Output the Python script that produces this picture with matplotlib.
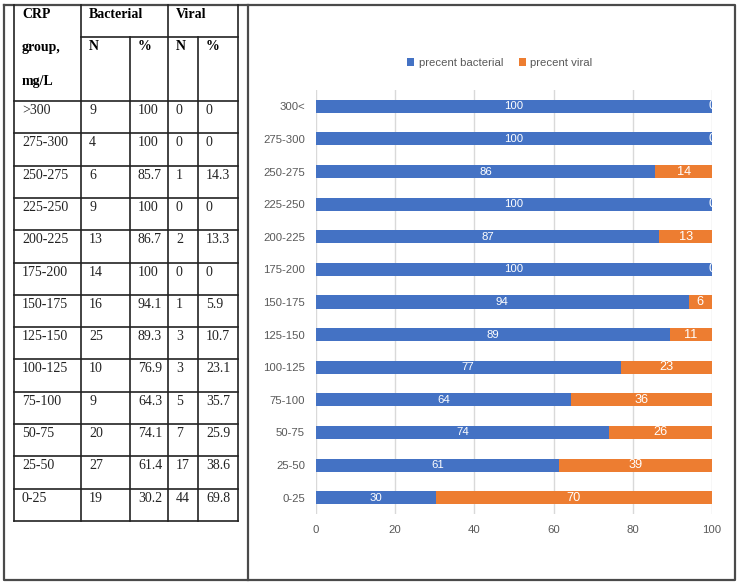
import matplotlib.pyplot as plt
import numpy as np

# table data (left panel)
table_groups = [">300", "275-300", "250-275", "225-250", "200-225", "175-200", "150-175",
                "125-150", "100-125", "75-100", "50-75", "25-50", "0-25"]
bact_n = [9, 4, 6, 9, 13, 14, 16, 25, 10, 9, 20, 27, 19]
bact_pct = [100, 100, 85.7, 100, 86.7, 100, 94.1, 89.3, 76.9, 64.3, 74.1, 61.4, 30.2]
viral_n = [0, 0, 1, 0, 2, 0, 1, 3, 3, 5, 7, 17, 44]
viral_pct = [0, 0, 14.3, 0, 13.3, 0, 5.9, 10.7, 23.1, 35.7, 25.9, 38.6, 69.8]

# chart labels (right panel)
chart_groups = ["300<", "275-300", "250-275", "225-250", "200-225", "175-200", "150-175",
                "125-150", "100-125", "75-100", "50-75", "25-50", "0-25"]
x_ticks = [0, 20, 40, 60, 80, 100]

blue = "#4472C4"
orange = "#ED7D31"
gray_txt = "#595959"

fig = plt.figure(figsize=(7.4, 5.85), dpi=100)

# overlay in pixel coords for the frames and the table
ov = fig.add_axes([0, 0, 1, 1], zorder=0)
ov.set_xlim(0, 740)
ov.set_ylim(585, 0)
ov.axis("off")

# outer frames
frame_c = "#4a4a4a"
ov.plot([4, 735, 735, 4, 4], [4.5, 4.5, 580, 580, 4.5], color=frame_c, lw=1.6)
ov.plot([248, 248], [4.5, 580], color=frame_c, lw=1.6)

# table grid
col_x = [14, 81, 130, 168, 198, 237.5]
top = 4.5
sub = 37
head_bottom = 101
row_h = (521 - head_bottom) / len(table_groups)
bottom = head_bottom + row_h * len(table_groups)
line_c = "#222222"
ov.plot([col_x[0], col_x[0]], [top, bottom], color=line_c, lw=1.2)
ov.plot([col_x[1], col_x[1]], [top, bottom], color=line_c, lw=1.2)
ov.plot([col_x[3], col_x[3]], [top, bottom], color=line_c, lw=1.2)
ov.plot([col_x[5], col_x[5]], [top, bottom], color=line_c, lw=1.2)
ov.plot([col_x[2], col_x[2]], [sub, bottom], color=line_c, lw=1.2)
ov.plot([col_x[4], col_x[4]], [sub, bottom], color=line_c, lw=1.2)
ov.plot([col_x[1], col_x[5]], [sub, sub], color=line_c, lw=1.2)
for i in range(len(table_groups) + 1):
    yy = head_bottom + i * row_h
    ov.plot([col_x[0], col_x[5]], [yy, yy], color=line_c, lw=1.2)

serif = "Liberation Serif"
fs = 10
pad = 8
ov.text(col_x[0] + pad, 15, "CRP", family=serif, fontsize=fs, weight="bold", va="center")
ov.text(col_x[0] + pad, 48, "group,", family=serif, fontsize=fs, weight="bold", va="center")
ov.text(col_x[0] + pad, 82, "mg/L", family=serif, fontsize=fs, weight="bold", va="center")
ov.text(col_x[1] + pad, 15, "Bacterial", family=serif, fontsize=fs, weight="bold", va="center")
ov.text(col_x[3] + pad, 15, "Viral", family=serif, fontsize=fs, weight="bold", va="center")
for cx, h in zip(col_x[1:5], ["N", "%", "N", "%"]):
    ov.text(cx + pad, 46, h, family=serif, fontsize=fs, weight="bold", va="center")

for i, g in enumerate(table_groups):
    yy = head_bottom + i * row_h + 9.5
    vals = [g, bact_n[i], bact_pct[i], viral_n[i], viral_pct[i]]
    for cx, v in zip(col_x[:5], vals):
        ov.text(cx + pad, yy, str(v), family=serif, fontsize=fs, va="center", color="#222222")

# stacked bar chart
ax = fig.add_axes([316 / 740, (585 - 514) / 585, 396 / 740, 424 / 585], zorder=1)
ax.set_facecolor("none")
y = np.arange(len(chart_groups))
ax.barh(y, bact_pct, height=0.4, color=blue, label="precent bacterial", zorder=2)
ax.barh(y, viral_pct, left=bact_pct, height=0.4, color=orange, label="precent viral", zorder=2)

sans = "Liberation Sans"
for i in range(len(chart_groups)):
    ax.text(bact_pct[i] / 2, y[i], str(round(bact_pct[i])), color="white", fontsize=8.2,
            family=sans, ha="center", va="center", zorder=3, clip_on=True)
    ax.text(bact_pct[i] + viral_pct[i] / 2, y[i], str(round(viral_pct[i])), color="white",
            fontsize=9.2, family=sans, ha="center", va="center", zorder=3, clip_on=True)

ax.set_xlim(0, 100)
ax.set_ylim(len(chart_groups) - 0.5, -0.5)
ax.set_yticks(y)
ax.set_yticklabels(chart_groups)
ax.set_xticks(x_ticks)
ax.tick_params(length=0, labelsize=8.2, labelcolor=gray_txt, pad=8)
for lab in ax.get_xticklabels() + ax.get_yticklabels():
    lab.set_family(sans)
ax.grid(axis="x", color="#D9D9D9", lw=1, zorder=0)
for s in ax.spines.values():
    s.set_visible(False)

leg = ax.legend(loc="center", bbox_to_anchor=(500 / 740, 1 - 63 / 585),
                bbox_transform=fig.transFigure, ncol=2, frameon=False,
                handlelength=0.6, handleheight=0.6, handletextpad=0.4, columnspacing=1.4,
                prop={"family": sans, "size": 8.2})
for t in leg.get_texts():
    t.set_color(gray_txt)

fig.savefig("out.png", dpi=100)
